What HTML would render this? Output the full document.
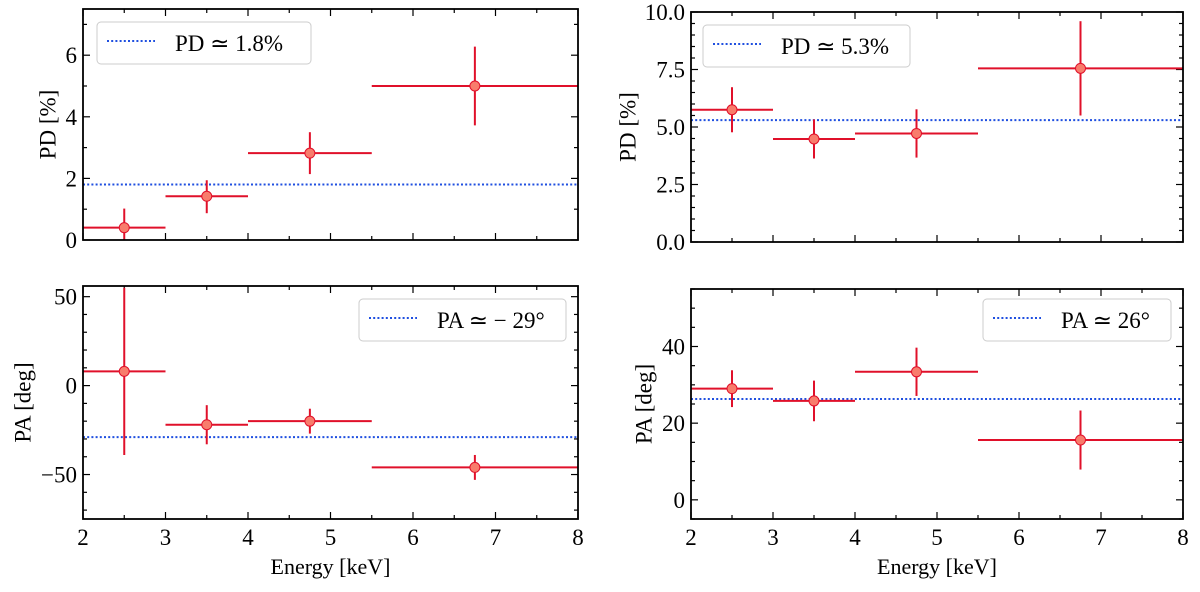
<!DOCTYPE html>
<html><head><meta charset="utf-8"><style>
body{margin:0;background:#fff}
svg text{font-family:"Liberation Serif",serif;fill:#000}
</style></head><body>
<svg id="fig" width="1200" height="587" xmlns="http://www.w3.org/2000/svg"></svg>
<script>
const binLo=[2,3,4,5.5], binHi=[3,4,5.5,8], centers=[2.5,3.5,4.75,6.75];
const pdLeft=[0.4,1.42,2.82,5.0], pdLeftErrUp=[0.62,0.52,0.68,1.28], pdLeftErrDn=[0.4,0.55,0.68,1.28];
const pdRight=[5.75,4.48,4.72,7.55], pdRightErr=[0.98,0.85,1.05,2.05];
const paLeft=[8,-22,-20,-46], paLeftErr=[47,11,7,7];
const paRight=[29,25.8,33.4,15.6], paRightErr=[4.8,5.3,6.3,7.7];
const xTicks=[2,3,4,5,6,7,8];
const NS='http://www.w3.org/2000/svg';
const svg=document.getElementById('fig');
function el(t,a,p){const e=document.createElementNS(NS,t);for(const k in a)e.setAttribute(k,a[k]);(p||svg).appendChild(e);return e;}
const panels=[
 {id:'pd-left',x0:83,x1:578,y0:9,y1:240,ymin:0,ymax:7.5,major:[0,2,4,6],minor:1,fmt:v=>String(v),ylab:'PD [%]',yo:35,vals:pdLeft,up:pdLeftErrUp,dn:pdLeftErrDn,ref:1.8,leg:'PD \u2243 1.8%',lx:97,ly:22,lw:214,xl:false},
 {id:'pd-right',x0:691,x1:1183,y0:12,y1:242,ymin:0,ymax:10,major:[0,2.5,5,7.5,10],minor:0.5,fmt:v=>v.toFixed(1),ylab:'PD [%]',yo:63,vals:pdRight,up:pdRightErr,dn:pdRightErr,ref:5.3,leg:'PD \u2243 5.3%',lx:703,ly:25,lw:207,xl:false},
 {id:'pa-left',x0:83,x1:578,y0:286,y1:519,ymin:-75,ymax:56,major:[-50,0,50],minor:10,fmt:v=>v<0?'\u2212'+(-v):String(v),ylab:'PA [deg]',yo:60,vals:paLeft,up:paLeftErr,dn:paLeftErr,ref:-29,leg:'PA \u2243 \u2212 29\u00b0',lx:359,ly:299,lw:207,xl:true},
 {id:'pa-right',x0:691,x1:1183,y0:289,y1:519,ymin:-5,ymax:55,major:[0,20,40],minor:5,fmt:v=>String(v),ylab:'PA [deg]',yo:47,vals:paRight,up:paRightErr,dn:paRightErr,ref:26.3,leg:'PA \u2243 26\u00b0',lx:983,ly:299,lw:188,xl:true}
];
panels.forEach(p=>{
 const g=el('g',{});
 
 
 const X=v=>p.x0+(v-2)/6*(p.x1-p.x0);
 const Y=v=>p.y1-(v-p.ymin)/(p.ymax-p.ymin)*(p.y1-p.y0);
 for(let v=2;v<=8.001;v+=0.5){const maj=Math.abs(v-Math.round(v))<1e-6;const L=maj?7:4;
  el('line',{x1:X(v),x2:X(v),y1:p.y1,y2:p.y1-L,stroke:'#000','stroke-width':1.2},g);
  el('line',{x1:X(v),x2:X(v),y1:p.y0,y2:p.y0+L,stroke:'#000','stroke-width':1.2},g);}
 const start=Math.ceil(p.ymin/p.minor)*p.minor;
 for(let v=start;v<=p.ymax+1e-6;v+=p.minor){const maj=p.major.some(m=>Math.abs(m-v)<1e-6);const L=maj?7:4;
  el('line',{x1:p.x0,x2:p.x0+L,y1:Y(v),y2:Y(v),stroke:'#000','stroke-width':1.2},g);
  el('line',{x1:p.x1,x2:p.x1-L,y1:Y(v),y2:Y(v),stroke:'#000','stroke-width':1.2},g);}
 p.major.forEach(v=>{const t=el('text',{x:p.x0-6,y:Y(v)+8,'text-anchor':'end','font-size':23},g);t.textContent=p.fmt(v);
  });
 if(p.xl){xTicks.forEach(v=>{const t=el('text',{x:X(v),y:p.y1+26,'text-anchor':'middle','font-size':23},g);t.textContent=v;
  });
  const xt=el('text',{x:(p.x0+p.x1)/2,y:574,'text-anchor':'middle','font-size':22},g);xt.textContent='Energy [keV]';
  }
 const cy=(p.y0+p.y1)/2, lx=p.x0-p.yo;
 const yt=el('text',{x:lx,y:cy,'text-anchor':'middle','dominant-baseline':'central','font-size':23,transform:`rotate(-90 ${lx} ${cy})`},g);yt.textContent=p.ylab;
 
 const rl=el('line',{x1:p.x0,x2:p.x1,y1:Y(p.ref),y2:Y(p.ref),stroke:'#1f4fe0','stroke-width':2,'stroke-dasharray':'2 2.2'},g);
 
 p.vals.forEach((v,i)=>{
  const pg=el('g',{},g);
  
  
  const ytop=Math.min(p.ymax,v+p.up[i]), ybot=Math.max(p.ymin,v-p.dn[i]);
  el('line',{x1:X(binLo[i]),x2:X(binHi[i]),y1:Y(v),y2:Y(v),stroke:'#e0102a','stroke-width':2},pg);
  el('line',{x1:X(centers[i]),x2:X(centers[i]),y1:Y(ytop),y2:Y(ybot),stroke:'#e0102a','stroke-width':2},pg);
  el('circle',{cx:X(centers[i]),cy:Y(v),r:5,fill:'#f87c6c',stroke:'#e0102a','stroke-width':1},pg);
 });
 el('rect',{x:p.x0,y:p.y0,width:p.x1-p.x0,height:p.y1-p.y0,fill:'none',stroke:'#000','stroke-width':1.8},g);
 const lg=el('g',{},g);
 
 
 el('rect',{x:p.lx,y:p.ly,width:p.lw,height:42,rx:4,fill:'#fff','fill-opacity':0.85,stroke:'#ccc','stroke-width':1},lg);
 el('line',{x1:p.lx+10,x2:p.lx+58,y1:p.ly+19,y2:p.ly+19,stroke:'#1f4fe0','stroke-width':2,'stroke-dasharray':'2 2.2'},lg);
 const lt=el('text',{x:p.lx+78,y:p.ly+29,'font-size':23},lg);lt.textContent=p.leg;
});
</script>
</body></html>
